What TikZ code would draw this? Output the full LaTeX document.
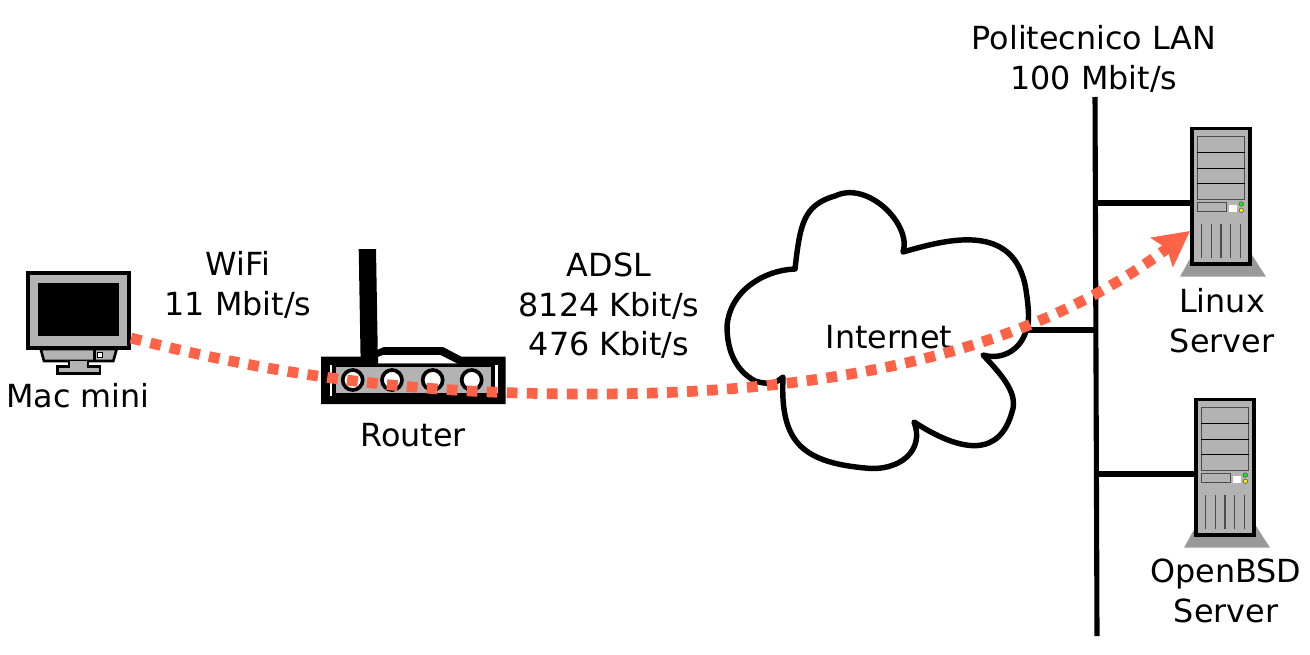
\documentclass[tikz,border=0pt]{standalone}
\usepackage{fontspec}
\setmainfont{DejaVu Sans}
\usetikzlibrary{arrows.meta}
\definecolor{boxgrey}{HTML}{B3B3B3}
\definecolor{footgrey}{HTML}{999999}
\definecolor{linkred}{HTML}{FF6347}
\tikzset{
  lbl/.style={align=center, inner sep=0pt, font=\fontsize{18.1}{22.4}\selectfont},
  wire/.style={line width=2.9pt, black},
  thick box/.style={draw=black, fill=boxgrey, line width=2.1pt, inner sep=0pt},
  thin box/.style={draw=black!70, fill=boxgrey, line width=0.7pt},
  port/.style={circle, draw=black, fill=white, line width=2.1pt, minimum size=0.4cm, inner sep=0pt},
  link/.style={line width=6.1pt, linkred, dash pattern=on 6.1pt off 5.3pt,
    -{Stealth[length=0.7cm, width=0.72cm, inset=0.12cm]}},
}
\begin{document}
\begin{tikzpicture}[x=0.02cm, y=-0.02cm]
\useasboundingbox (0,0) rectangle (1310,655);
% lan
\coordinate (bustop) at (1095,97);
\coordinate (busbot) at (1097,636);
\coordinate (tapinternet) at (1096,330);
\coordinate (taplinux) at (1096,203);
\coordinate (tapopenbsd) at (1097,474);
\coordinate (cloudedge) at (1027,330);
\draw[wire] (bustop) -- (busbot);
\draw[wire] (cloudedge) -- (tapinternet);
% servers
\foreach \srv/\sx/\sy in {linux/0/0, openbsd/4/271} {
  \begin{scope}[shift={(\sx,\sy)}]
    \fill[footgrey] (1180,276.7) -- (1192,255) -- (1252,255) -- (1266,276.7) -- cycle;
    \node[thick box, minimum width=1.17cm, minimum height=2.71cm] (\srv) at (1221,196.2) {};
    \draw[thin box] (1197.3,136.7) rectangle (1244.7,199.3);
    \draw[line width=0.7pt] (1197.3,152.3) -- (1244.7,152.3);
    \draw[line width=0.7pt] (1197.3,168.3) -- (1244.7,168.3);
    \draw[line width=0.7pt] (1197.3,183.3) -- (1244.7,183.3);
    \draw[thin box] (1197.3,202.3) rectangle (1226.7,211.7);
    \fill[white] (1229.3,205.3) rectangle (1237,211.7);
    \filldraw[fill=green, draw=black!70, line width=0.3pt] (1241.3,204) circle (2.2);
    \filldraw[fill=yellow, draw=black!70, line width=0.3pt] (1241.3,210.3) circle (2.2);
    \foreach \vx in {1201.3,1211.3,1221,1230.3,1240.7}
      \draw[black!70, line width=0.7pt] (\vx,224) -- (\vx,258.3);
  \end{scope}
}
\draw[wire] (taplinux) -- (taplinux -| linux.west);
\draw[wire] (tapopenbsd) -- (tapopenbsd -| openbsd.west);
% mac mini
\draw[thick box, line width=1.5pt] (40.7,349) -- (44,361) -- (113.3,361) -- (116.7,349) -- cycle;
\draw[thick box, line width=1.5pt] (69,361) -- (69,366.7) -- (57.3,366.7) -- (57.3,373.7) -- (100,373.7) -- (100,366.7) -- (88,366.7) -- (88,361);
\draw[black, line width=1.5pt] (94.3,349) -- (94.3,361);
\draw[fill=white, line width=0.8pt] (97.3,352.7) rectangle (102.3,357.3);
\node[thick box, minimum width=2.02cm, minimum height=1.5cm] (macmini) at (78.5,310.3) {};
\fill[black] (38,282.7) rectangle (119,336);
% router
\fill[black] (358.7,249) -- (376,249) -- (378,365) -- (360.7,365) -- cycle;
\fill[black] (378,349.5) -- (384,347) -- (443,347) -- (462,357) -- (462,365) -- (378,365) -- cycle;
\fill[white] (378,357) -- (383,355) -- (440,355) -- (457,363.5) -- (378,363.5) -- cycle;
\fill[black] (321,356.7) -- (378,356.7) -- (378,363.5) -- (457,363.5) -- (462,356.7) -- (505.7,356.7) -- (505.7,404) -- (321,404) -- cycle;
\node[fill=boxgrey, inner sep=0pt, minimum width=3.1cm, minimum height=0.508cm] (router) at (413.2,380) {};
\fill[white] (329.7,365) rectangle (332.2,395.7);
\fill[white] (495,365) rectangle (497.5,393);
\foreach \px in {352.7,392,432.7,471.7}
  \node[port] at (\px,380) {};
% cloud
\draw[line width=3.1pt, line join=round, fill=white] (795,269)
  .. controls (800,225) and (803,205) .. (835,196)
  .. controls (868,180) and (912,225) .. (903,252)
  .. controls (945,240) and (1015,220) .. (1026,290)
  .. controls (1029,310) and (1030,325) .. (1025,334)
  .. controls (1018,352) and (1000,360) .. (983,355)
  .. controls (1005,378) and (1018,395) .. (1012,412)
  .. controls (1000,455) and (965,455) .. (914,422)
  .. controls (925,450) and (900,472) .. (865,468)
  .. controls (800,462) and (780,440) .. (783,377)
  .. controls (775,385) and (765,384) .. (755,381)
  .. controls (735,370) and (727,350) .. (727,326)
  .. controls (730,290) and (765,270) .. (795,269) -- cycle;
% labels
\node[lbl] (internet) at (889,337) {Internet};
\node[lbl] (lanlabel) at (1094,59) {Politecnico LAN\\100 Mbit/s};
\node[lbl] (wifilabel) at (238,285) {WiFi\\11 Mbit/s};
\node[lbl] (adsllabel) at (609,306) {ADSL\\8124 Kbit/s\\476 Kbit/s};
\node[lbl] (linuxlabel) at (1222,320.5) {Linux\\Server};
\node[lbl] (openbsdlabel) at (1226,591) {OpenBSD\\Server};
\node[lbl] (maclabel) at (78,396) {Mac mini};
\node[lbl] (routerlabel) at (413,435) {Router};
% path
\coordinate (linkstart) at (131,338);
\coordinate (linkend) at (1190,231);
\draw[link] (linkstart) .. controls (300,382) and (440,394) .. (590,394)
  .. controls (810,394) and (1020,360) .. (linkend);
\end{tikzpicture}
\end{document}
